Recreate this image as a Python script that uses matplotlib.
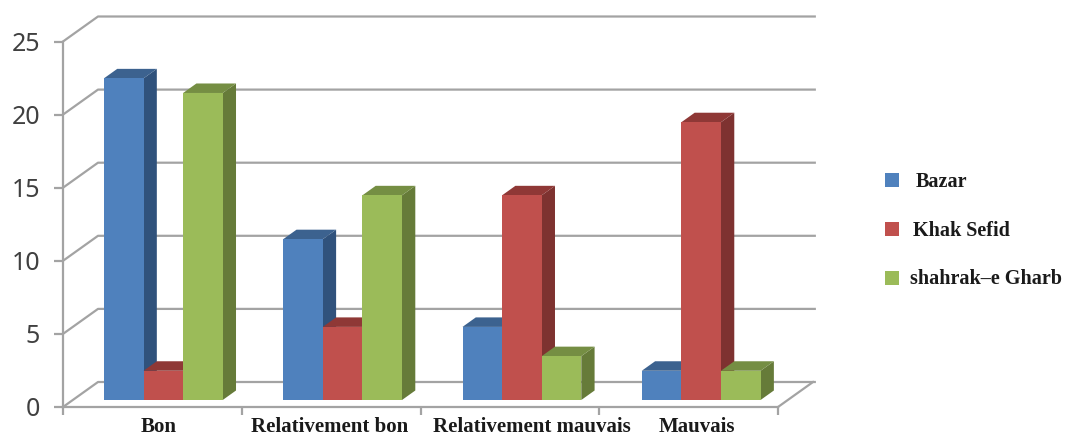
import matplotlib
matplotlib.use("Agg")
import matplotlib.pyplot as plt
from matplotlib.patches import Polygon, Rectangle
import numpy as np

categories = ['Bon', 'Relativement bon', 'Relativement mauvais', 'Mauvais']
series = ['Bazar', 'Khak Sefid', 'shahrak\u2013e Gharb']
bazar = [22, 11, 5, 2]
khak_sefid = [2, 5, 14, 19]
shahrak = [21, 14, 3, 2]
yticks = [0, 5, 10, 15, 20, 25]

front = ['#4f81bd', '#c0504d', '#9bbb59']
side = ['#30527c', '#7e3230', '#667b39']
top = ['#3c628f', '#8f3836', '#758e43']

W, H = 1070, 437
fig = plt.figure(figsize=(W / 100, H / 100), dpi=100)

# axes box = the front plane of the fake 3d chart, in pixels
x0, x1, y0, y25 = 63, 778, 407, 41.5
ax = fig.add_axes([x0 / W, 1 - y0 / H, (x1 - x0) / W, (y0 - y25) / H])
ax.set_xlim(0, 4)
ax.set_ylim(0, 25)
ax.patch.set_visible(False)

# depth of the floor in data units
dx = 35 / 178.75
dy = 25 / 14.62
grid_c = '#a3a3a3'
grid_w = 1.6

for v in yticks:
    ax.plot([0, dx, 4 + dx + 0.01], [v, v + dy, v + dy], color=grid_c, lw=grid_w, clip_on=False, zorder=1)
ax.plot([4, 4 + dx], [0, dy], color=grid_c, lw=grid_w, clip_on=False, zorder=1)

# bars, left to right so that each one hides the side of the previous one
bar_w = 0.2215
pitch = 1.003
start = 0.229
d_front = 0.28
d_bar = 0.38
base = d_front * dy
ox = d_bar * dx
oy = d_bar * dy
for g in range(len(categories)):
    for s, vals in enumerate([bazar, khak_sefid, shahrak]):
        left = g * pitch + start + s * bar_w
        v = vals[g]
        ax.bar(left, v, bar_w, bottom=base, align='edge', color=front[s], lw=0, zorder=3 + g + s * 0.1, clip_on=False)
        z = 3 + g + s * 0.1 - 0.05
        ax.add_patch(Polygon([(left + bar_w, base), (left + bar_w + ox, base + oy),
                              (left + bar_w + ox, base + v + oy), (left + bar_w, base + v)],
                             color=side[s], lw=0, zorder=z, clip_on=False))
        ax.add_patch(Polygon([(left, base + v), (left + ox, base + v + oy),
                              (left + bar_w + ox, base + v + oy), (left + bar_w, base + v)],
                             color=top[s], lw=0, zorder=z, clip_on=False))

for name in ['top', 'right']:
    ax.spines[name].set_visible(False)
for name in ['left', 'bottom']:
    ax.spines[name].set_color(grid_c)
    ax.spines[name].set_linewidth(grid_w)
ax.set_xticks(range(len(categories) + 1))
ax.set_xticklabels([])
ax.set_yticks(yticks)
ax.tick_params(axis='x', length=6, width=grid_w, color=grid_c)
ax.tick_params(axis='y', length=6.5, width=grid_w, color=grid_c, pad=10, labelsize=18, labelcolor='#404040')
for t in ax.get_yticklabels():
    t.set_fontfamily('Noto Sans')

# category labels sit a bit off centre in the original
label_x = [159, 330, 532, 697]
for name, lx in zip(categories, label_x):
    fig.text(lx / W, 1 - 427.5 / H, name, ha='center', va='center',
             family='Liberation Serif', weight='bold', fontsize=15, color='#1a1a1a')

# hand made legend
legend_y = [180, 229, 277.5]
legend_x = [916, 913, 910]
for name, c, ly, lx in zip(series, front, legend_y, legend_x):
    fig.add_artist(Rectangle((885 / W, 1 - (ly + 7) / H), 14 / W, 14 / H, color=c, lw=0,
                             transform=fig.transFigure))
    fig.text(lx / W, 1 - (ly + 2) / H, name, ha='left', va='center',
             family='Liberation Serif', weight='bold', fontsize=14.5, color='#1a1a1a')

fig.savefig('out.png', dpi=100)
